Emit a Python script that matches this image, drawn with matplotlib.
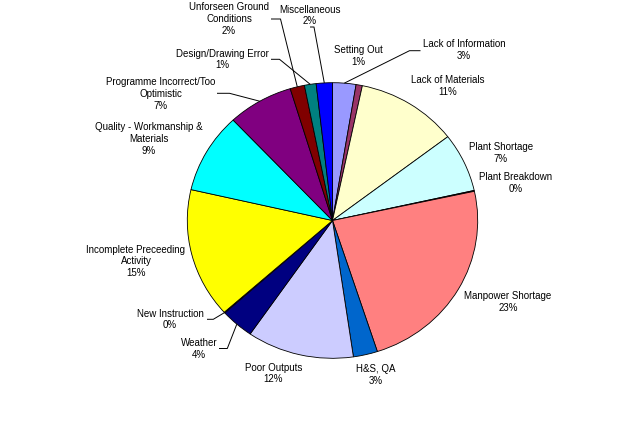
import numpy as np
import matplotlib
matplotlib.use("Agg")
import matplotlib.pyplot as plt

# ---- data (clockwise from 12 o'clock) ----
categories = [
    "Lack of Information", "Setting Out", "Lack of Materials", "Plant Shortage",
    "Plant Breakdown", "Manpower Shortage", "H&S, QA", "Poor Outputs", "Weather",
    "New Instruction", "Incomplete Preceeding Activity",
    "Quality - Workmanship & Materials", "Programme Incorrect/Too Optimistic",
    "Unforseen Ground Conditions", "Design/Drawing Error", "Miscellaneous",
]
shares = [2.6, 0.7, 11.3, 6.9, 0.1, 23.4, 2.7, 11.9, 3.7, 0.1, 15.2, 9.4, 7.3, 1.6, 1.3, 1.8]
label_texts = [
    "Lack of Information", "Setting Out", "Lack of Materials", "Plant Shortage",
    "Plant Breakdown", "Manpower Shortage", "H&S, QA", "Poor Outputs", "Weather",
    "New Instruction", "Incomplete Preceeding\nActivity",
    "Quality - Workmanship &\nMaterials", "Programme Incorrect/Too\nOptimistic",
    "Unforseen Ground\nConditions", "Design/Drawing Error", "Miscellaneous",
]
colors = ["#9999FF", "#993366", "#FFFFCC", "#CCFFFF", "#660066", "#FF8080",
          "#0066CC", "#CCCCFF", "#000080", "#FF00FF", "#FFFF00", "#00FFFF",
          "#800080", "#800000", "#008080", "#0000FF"]

# ---- layout (pixel space of the 640x442 image) ----
W, H = 640, 442
CX, CY, RX, RY = 332.5, 220.5, 145.2, 137.8
label_pos = {
    "Lack of Information": (464, 50),
    "Setting Out": (358, 56),
    "Lack of Materials": (448, 86),
    "Plant Shortage": (501, 153),
    "Plant Breakdown": (516, 183),
    "Manpower Shortage": (508, 302),
    "H&S, QA": (376, 375),
    "Poor Outputs": (273.5, 373.5),
    "Weather": (199, 349),
    "New Instruction": (170, 319.5),
    "Incomplete Preceeding Activity": (136, 261.5),
    "Quality - Workmanship & Materials": (149, 139),
    "Programme Incorrect/Too Optimistic": (161, 94),
    "Unforseen Ground Conditions": (229, 19),
    "Design/Drawing Error": (222, 59.5),
    "Miscellaneous": (310, 15.5),
}
# leader lines: (elbow, end) in pixels; start is the wedge's rim midpoint
leaders = {
    "Lack of Information": [(409.5, 50.7), (420.5, 50.7)],
    "Miscellaneous": [(314, 27), (310, 27)],
    "Unforseen Ground Conditions": [(280.5, 19), (271, 19)],
    "Design/Drawing Error": [(279.5, 59.3), (271, 59.3)],
    "Programme Incorrect/Too Optimistic": [(229.5, 93.3), (217, 93.3)],
    "New Instruction": [(213.3, 319.3), (207, 319.3)],
    "Weather": [(227.3, 348.5), (219, 348.5)],
}


def to_data(px, py):
    return (px - CX) / RX, -(py - CY) / RY


fig = plt.figure(figsize=(W / 100, H / 100), dpi=100)
fig.patch.set_facecolor("white")
ax = fig.add_axes([0, 0, 1, 1])

wedges, _ = ax.pie(shares, colors=colors, startangle=90, counterclock=False,
                   wedgeprops=dict(edgecolor="black", linewidth=0.6))
ax.set_aspect("auto")
x0, y0 = to_data(0, H)
x1, y1 = to_data(W, 0)
ax.set_xlim(x0, x1)
ax.set_ylim(y0, y1)
ax.axis("off")

total = sum(shares)
font = dict(family=["Liberation Sans", "DejaVu Sans"], size=7, color="black")
for cat, val, txt, w in zip(categories, shares, label_texts, wedges):
    pct = int(round(val / total * 100))
    lx, ly = to_data(*label_pos[cat])
    ax.text(lx, ly, f"{txt}\n{pct}%", ha="center", va="center",
            multialignment="center", linespacing=1.2, **font)
    if cat in leaders:
        mid = np.deg2rad((w.theta1 + w.theta2) / 2)
        pts = [(np.cos(mid), np.sin(mid))] + [to_data(*p) for p in leaders[cat]]
        xs, ys = zip(*pts)
        ax.plot(xs, ys, color="black", linewidth=0.7, solid_capstyle="butt")

fig.savefig("out.png", dpi=100, facecolor="white")
